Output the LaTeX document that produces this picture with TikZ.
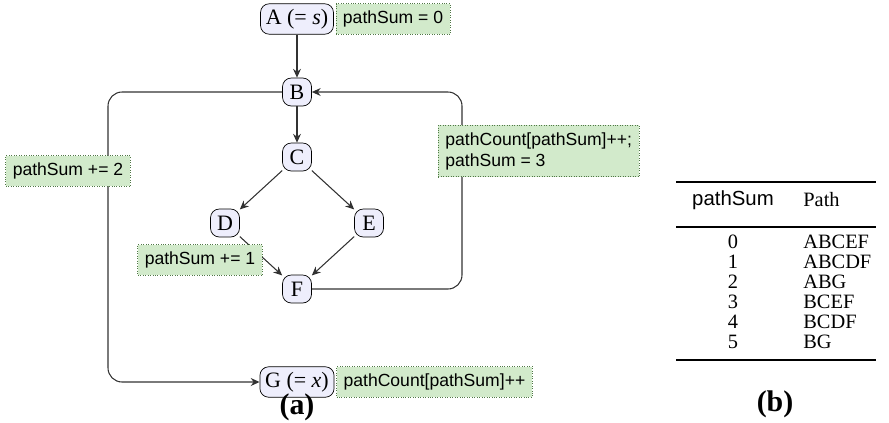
\documentclass[tikz,border=0pt]{standalone}
\usepackage{fontspec}
\setmainfont{Liberation Serif}
\setsansfont{Liberation Sans}
\usetikzlibrary{arrows.meta,positioning}

\definecolor{stfill}{RGB}{238,238,252}
\definecolor{notefill}{RGB}{210,234,203}
\definecolor{notedraw}{RGB}{80,120,70}
\definecolor{edgegray}{RGB}{50,50,50}

\begin{document}
\begin{tikzpicture}[
  x=0.2mm,y=-0.2mm,
  st/.style={draw, rounded corners=5pt, fill=stfill, minimum width=0.58cm, minimum height=0.56cm, inner sep=3pt, font=\fontsize{12.5}{14}\selectfont},
  note/.style={draw=notedraw, densely dotted, fill=notefill, align=left, font=\sffamily\fontsize{10}{12}\selectfont, inner sep=4pt},
  arr/.style={-{Stealth[length=5pt,width=4.5pt]}, draw=edgegray, semithick},
  tab/.style={font=\fontsize{11.6}{13}\selectfont, inner sep=0pt},
  rule/.style={line width=1.1pt}
]
\useasboundingbox (0,0) rectangle (889,422);

% graph (a)
\node[st] (A) at (297,19) {A (= \textit{s})};
\node[st] (B) at (297,92) {B};
\node[st] (C) at (297,157) {C};
\node[st] (D) at (225,223) {D};
\node[st] (E) at (369,223) {E};
\node[st] (F) at (297,289) {F};
\node[st] (G) at (297,382) {G (= \textit{x})};
\coordinate (lft) at (108,230);
\coordinate (rgt) at (462,190);

\draw[arr] (A) -- (B); \draw[arr] (B) -- (C); \draw[arr] (C) -- (D); \draw[arr] (C) -- (E);
\draw[arr] (D) -- (F); \draw[arr] (E) -- (F);
\draw[arr, rounded corners=8pt] (B) -| (lft) |- (G);
\draw[arr, rounded corners=8pt] (F) -| (rgt) |- (B);

\node[note, right=1pt of A] (initsum) {pathSum = 0};
\node[note, right=1pt of G] (count) {pathCount[pathSum]++};
\node[note] (addtwo) at (68,171) {pathSum += 2};
\node[note] (addone) at (200,260) {pathSum += 1};
\node[note, anchor=west] (reset) at (438,151) {pathCount[pathSum]++;\\pathSum = 3};
\node[font=\bfseries\fontsize{17}{19}\selectfont] (capa) at (297,407) {(a)};

% table (b)
\node[tab, font=\sffamily\fontsize{11.6}{13}\selectfont] (hsum) at (733,200) {pathSum};
\node[tab, anchor=west] (hpath) at (803,200) {Path};
\foreach \s/\p [count=\i] in {0/ABCEF,1/ABCDF,2/ABG,3/BCEF,4/BCDF,5/BG}{
  \node[tab] (s\i) at (733,222+20*\i) {\s};
  \node[tab, anchor=west] (p\i) at (803,222+20*\i) {\p};
}
\coordinate (midl) at ([yshift=-3.4mm]hsum.south -| 676,0);
\coordinate (midr) at (midl -| 876,0);
\draw[rule] (676,182) -- (876,182);
\draw[rule] (midl) -- (midr);
\draw[rule] (676,360) -- (876,360);
\node[font=\bfseries\fontsize{17}{19}\selectfont] (capb) at (775,404) {(b)};
\end{tikzpicture}
\end{document}
